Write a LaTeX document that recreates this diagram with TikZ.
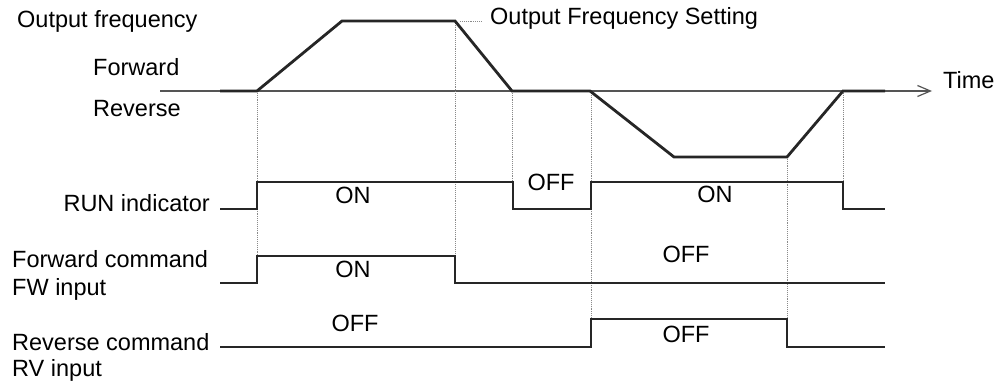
\documentclass[tikz,border=0pt]{standalone}
\usepackage{fontspec}
\setmainfont{Liberation Sans}
\usetikzlibrary{arrows.meta}
\definecolor{sig}{HTML}{262626}
\definecolor{axisgrey}{HTML}{555555}
\definecolor{dotgrey}{HTML}{8A8A8A}
\tikzset{
  signal/.style={draw=sig, line width=2.8pt, line join=miter},
  axisline/.style={draw=axisgrey, line width=1.4pt},
  guide/.style={draw=dotgrey, line width=0.9pt, densely dotted},
  lbl/.style={inner sep=0pt, font=\fontsize{23.5}{28}\selectfont, text=black},
}
\begin{document}
\begin{tikzpicture}[x=1pt, y=-1pt]
\useasboundingbox (0,0) rectangle (1001,387);
% time axis
\coordinate (axs) at (160,91);
\coordinate (axe) at (932,91);
\draw[axisline, -{Straight Barb[length=13pt,width=11pt,line width=1.2pt]}] (axs) -- (axe);
% guides
\draw[guide] (257,91) -- (257,256);
\draw[guide] (455,21) -- (455,256);
\draw[guide] (512,91) -- (512,182);
\draw[guide] (591,91) -- (591,319);
\draw[guide] (787,157) -- (787,319);
\draw[guide] (843,91) -- (843,182);
\draw[guide] (460,21) -- (482,21);
% output frequency
\draw[signal] (220,91) -- (257,91) -- (342,21) -- (455,21) -- (512,91) -- (590,91) -- (674,157) -- (787,157) -- (843,91) -- (885,91);
% RUN indicator
\draw[signal] (220,209) -- (257,209) -- (257,182) -- (513,182) -- (513,209) -- (591,209) -- (591,182) -- (843,182) -- (843,209) -- (885,209);
% FW
\draw[signal] (220,283) -- (257,283) -- (257,256) -- (455,256) -- (455,283) -- (885,283);
% RV
\draw[signal] (220,347) -- (591,347) -- (591,319) -- (787,319) -- (787,347) -- (885,347);
% labels
\node[lbl, anchor=base west] (of) at (17,27.7) {Output frequency};
\node[lbl, anchor=base west] (fwd) at (93,76) {Forward};
\node[lbl, anchor=base west] (rev) at (93,116.7) {Reverse};
\node[lbl, anchor=base east] (run) at (210,211.7) {RUN indicator};
\node[lbl, anchor=base west] (fwc) at (12,268) {Forward command};
\node[lbl, anchor=base west] (fwi) at (12,295) {FW input};
\node[lbl, anchor=base west] (rvc) at (12,350) {Reverse command};
\node[lbl, anchor=base west] (rvi) at (12,376.7) {RV input};
\node[lbl, anchor=base west] (ofs) at (490,25) {Output Frequency Setting};
\node[lbl, anchor=base west] (time) at (943,88.3) {Time};
\node[lbl, anchor=base] (on1) at (353,204) {ON};
\node[lbl, anchor=base] (on2) at (353,278) {ON};
\node[lbl, anchor=base] (off1) at (355,331.7) {OFF};
\node[lbl, anchor=base] (off2) at (551,190.7) {OFF};
\node[lbl, anchor=base] (on3) at (715,202.7) {ON};
\node[lbl, anchor=base] (off3) at (686,263) {OFF};
\node[lbl, anchor=base] (off4) at (686,342.7) {OFF};
\end{tikzpicture}
\end{document}
